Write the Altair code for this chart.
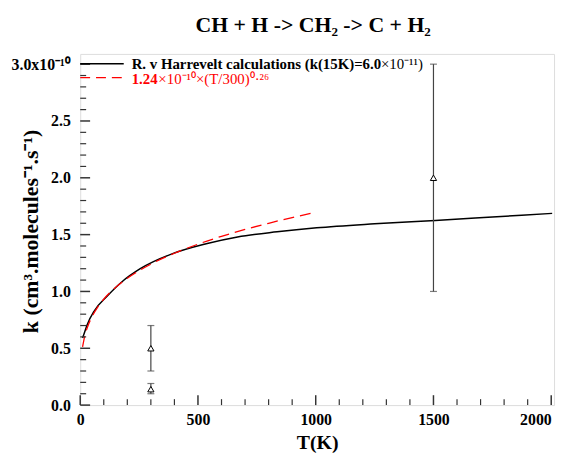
import altair as alt
import pandas as pd

# ---- data ----
calc_T = [10, 15, 30, 60, 115, 180, 255, 395, 535, 668, 836, 1004, 1250, 1508, 1750, 2004]
calc_k = [0.59, 0.62, 0.71, 0.83, 0.96, 1.09, 1.20, 1.335, 1.42, 1.48, 1.525, 1.56, 1.595, 1.625, 1.655, 1.687]

fit_T = [10, 20, 35, 50, 75, 100, 150, 200, 300, 400, 500, 600, 700, 800, 900, 1000]
fit_k = [0.512, 0.613, 0.709, 0.778, 0.865, 0.932, 1.036, 1.116, 1.24, 1.336, 1.416, 1.485, 1.546, 1.600, 1.650, 1.696]

exp_T = [300, 300, 1500]
exp_k = [0.50, 0.14, 2.00]
exp_lo = [0.30, 0.10, 1.00]
exp_hi = [0.70, 0.19, 3.00]

x_major = [0, 500, 1000, 1500, 2000]
x_minor = [100, 200, 300, 400, 600, 700, 800, 900, 1100, 1200, 1300, 1400, 1600, 1700, 1800, 1900]
y_major = [0.0, 0.5, 1.0, 1.5, 2.0, 2.5, 3.0]
y_minor = [0.1, 0.2, 0.3, 0.4, 0.6, 0.7, 0.8, 0.9, 1.1, 1.2, 1.3, 1.4, 1.6, 1.7, 1.8, 1.9,
           2.1, 2.2, 2.3, 2.4, 2.6, 2.7, 2.8, 2.9]

title_text = "CH + H -> CH\u2082 -> C + H\u2082"
y_title = "k (cm\u00b3.molecules\u207b\u00b9.s\u207b\u00b9)"
x_title = "T(K)"
legend_calc_bold = "R. v Harrevelt calculations (k(15K)=6.0"
legend_calc_reg = "\u00d710\u207b\u00b9\u00b9)"
legend_fit_bold = "1.24"
legend_fit_reg = "\u00d710\u207b\u00b9\u2070\u00d7(T/300)\u2070\u00b7\u00b2\u2076"

W, H = 479, 355
FONT = "Liberation Serif"

xs = alt.Scale(domain=[0, 2012], nice=False, zero=False)
ys = alt.Scale(domain=[0, 3.09], nice=False, zero=False)

calc_df = pd.DataFrame({"T": calc_T, "k": calc_k})
fit_df = pd.DataFrame({"T": fit_T, "k": fit_k})
exp_df = pd.DataFrame({"T": exp_T, "k": exp_k, "lo": exp_lo, "hi": exp_hi})

x_axis = alt.Axis(
    values=x_major, ticks=False, domain=False, grid=False, format="d",
    labelFont=FONT, labelFontSize=16, labelFontWeight="bold", labelColor="black",
    labelPadding=7, labelFlush=False,
    labelAlign={"condition": {"test": "datum.value == 2000", "value": "right"}, "value": "center"},
    title=x_title, titleFont=FONT, titleFontSize=20, titleFontWeight="bold", titleColor="black",
    titleX=W / 2, titleY=44, titleBaseline="alphabetic", titleAlign="center",
)
y_axis = alt.Axis(
    values=y_major, ticks=False, domain=False, grid=False,
    labelFont=FONT, labelFontSize=16, labelFontWeight="bold", labelColor="black",
    labelPadding=10,
    labelExpr="datum.value == 3 ? '3.0x10\u207b\u00b9\u2070' : format(datum.value, '.1f')",
    title=y_title, titleFont=FONT, titleFontSize=22, titleFontWeight="bold", titleColor="black",
    titleAngle=-90, titleX=-43, titleY=179, titleAlign="center", titleBaseline="alphabetic",
)

base_x = alt.X("T:Q", scale=xs, axis=x_axis)
base_y = alt.Y("k:Q", scale=ys, axis=y_axis)

calc_line = alt.Chart(calc_df).mark_line(color="black", strokeWidth=1.5, interpolate="monotone").encode(
    x=base_x, y=base_y)
fit_line = alt.Chart(fit_df).mark_line(color="#ff0000", strokeWidth=1.3, strokeDash=[11, 6],
                                       interpolate="monotone").encode(
    x=alt.X("T:Q", scale=xs), y=alt.Y("k:Q", scale=ys))

err = alt.Chart(exp_df).mark_rule(color="#444444", strokeWidth=1.2).encode(
    x=alt.X("T:Q", scale=xs), y=alt.Y("lo:Q", scale=ys), y2="hi:Q")
cap_lo = alt.Chart(exp_df).mark_tick(color="#444444", thickness=1.2, size=7, orient="horizontal").encode(
    x=alt.X("T:Q", scale=xs), y=alt.Y("lo:Q", scale=ys))
cap_hi = alt.Chart(exp_df).mark_tick(color="#444444", thickness=1.2, size=7, orient="horizontal").encode(
    x=alt.X("T:Q", scale=xs), y=alt.Y("hi:Q", scale=ys))
pts = alt.Chart(exp_df).mark_point(shape="triangle-up", filled=True, fill="white", stroke="black",
                                   strokeWidth=1, size=40, opacity=1).encode(
    x=alt.X("T:Q", scale=xs), y=alt.Y("k:Q", scale=ys))

# inward ticks
xmaj_df = pd.DataFrame({"T": x_major})
xmin_df = pd.DataFrame({"T": x_minor})
ymaj_df = pd.DataFrame({"k": y_major})
ymin_df = pd.DataFrame({"k": y_minor})
tick_col = "#333333"
xt_major = alt.Chart(xmaj_df).mark_rule(color=tick_col, strokeWidth=1.5).encode(
    x=alt.X("T:Q", scale=xs), y=alt.value(H), y2=alt.value(H - 10))
xt_minor = alt.Chart(xmin_df).mark_rule(color=tick_col, strokeWidth=1.2).encode(
    x=alt.X("T:Q", scale=xs), y=alt.value(H), y2=alt.value(H - 6))
yt_major = alt.Chart(ymaj_df).mark_rule(color=tick_col, strokeWidth=1.5).encode(
    y=alt.Y("k:Q", scale=ys), x=alt.value(0), x2=alt.value(10))
yt_minor = alt.Chart(ymin_df).mark_rule(color=tick_col, strokeWidth=1.2).encode(
    y=alt.Y("k:Q", scale=ys), x=alt.value(0), x2=alt.value(6))

# legend
LFS = 15
leg1_line = alt.Chart(pd.DataFrame({"a": [0]})).mark_rule(color="black", strokeWidth=1.5).encode(
    x=alt.value(0), x2=alt.value(44), y=alt.value(10))
leg2_line = alt.Chart(pd.DataFrame({"a": [0]})).mark_rule(color="#ff0000", strokeWidth=1.3,
                                                          strokeDash=[10, 6]).encode(
    x=alt.value(0), x2=alt.value(44), y=alt.value(24))
leg_df = pd.DataFrame({"t1": [legend_calc_bold], "t2": [legend_calc_reg],
                       "t3": [legend_fit_bold], "t4": [legend_fit_reg]})
leg1_bold = alt.Chart(leg_df).mark_text(font=FONT, fontSize=LFS, fontWeight="bold", color="black",
                                        align="left", baseline="middle").encode(
    text="t1:N", x=alt.value(52), y=alt.value(10))
leg1_reg = alt.Chart(leg_df).mark_text(font=FONT, fontSize=LFS, color="black",
                                       align="left", baseline="middle").encode(
    text="t2:N", x=alt.value(304), y=alt.value(10))
leg2_bold = alt.Chart(leg_df).mark_text(font=FONT, fontSize=LFS, fontWeight="bold", color="#ff0000",
                                        align="left", baseline="middle").encode(
    text="t3:N", x=alt.value(52), y=alt.value(25))
leg2_reg = alt.Chart(leg_df).mark_text(font=FONT, fontSize=LFS, color="#ff0000",
                                       align="left", baseline="middle").encode(
    text="t4:N", x=alt.value(79), y=alt.value(25))

chart = alt.layer(
    calc_line, fit_line, err, cap_lo, cap_hi, pts,
    xt_major, xt_minor, yt_major, yt_minor,
    leg1_line, leg2_line, leg1_bold, leg1_reg, leg2_bold, leg2_reg,
).properties(
    width=W, height=H,
    title=alt.TitleParams(title_text, font=FONT, fontSize=22, fontWeight="bold", color="black",
                          anchor="middle", baseline="alphabetic", offset=0, dx=-4),
    autosize=alt.AutoSizeParams(type="none"),
    padding={"left": 73, "top": 44, "right": 4, "bottom": 46},
).configure_view(stroke="black", strokeWidth=2).configure(background="white")

chart.save("out.html", embed_options={"renderer": "svg", "actions": False})
